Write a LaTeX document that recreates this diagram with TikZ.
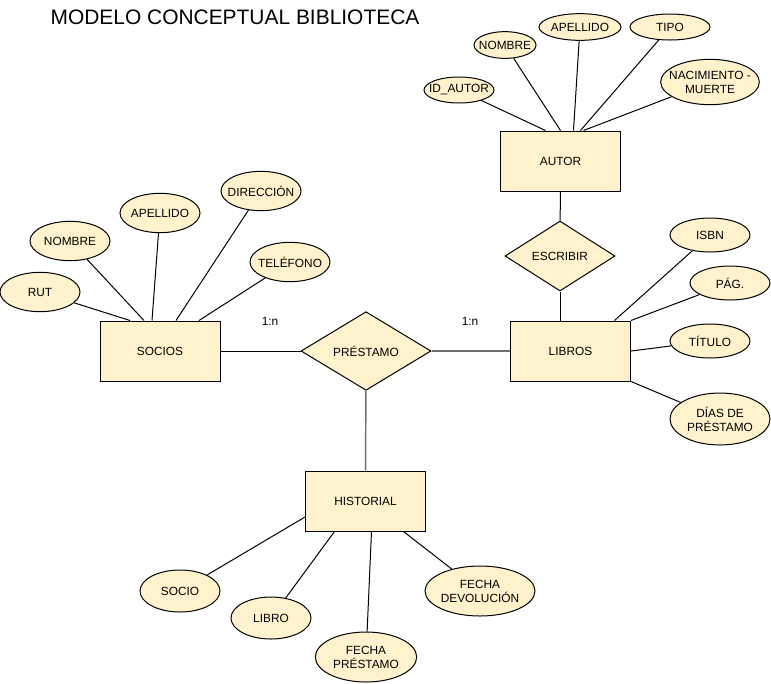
\documentclass[tikz,border=0pt]{standalone}
\usepackage{fontspec}
\setmainfont{Liberation Sans}
\usetikzlibrary{shapes.geometric, calc}
\definecolor{amarillo}{RGB}{255,242,204}
\definecolor{gris}{RGB}{110,110,110}

\begin{document}
\begin{tikzpicture}[x=0.75pt,y=-0.75pt,line width=0.75pt,
		every node/.style={font=\fontsize{8.9}{10.6}\selectfont},
		every label/.style={align=center}]
		\tikzstyle{entidad}=[rectangle,draw,fill=amarillo,minimum width=90pt,minimum height=45pt]
		\tikzstyle{relacion}=[diamond,draw,fill=amarillo,aspect=1.6,inner sep=0pt]
		\tikzstyle{atributo}=[ellipse,draw,fill=amarillo,minimum width=60pt,minimum height=29.5pt,inner sep=0pt]
		\tikzstyle{gruesa}=[draw=gris,line width=1.1pt]

		\path[use as bounding box] (0,0) rectangle (771,683);
		\node (titulo) at (235,17) {\fontsize{15.7}{18}\selectfont MODELO CONCEPTUAL BIBLIOTECA};

		% entidades y relaciones
		\node[entidad] (autor) at (560.5,161) {AUTOR};
		\node[relacion,minimum width=82.5pt,minimum height=52.5pt] (escribir) at (560,256) {ESCRIBIR};
		\node[entidad] (libros) at (570.5,351) {LIBROS};
		\node[relacion,minimum width=97.5pt,minimum height=59pt] (prestamo) at (366,351) {PRÉSTAMO};
		\node[entidad] (socios) at (160,351) {SOCIOS};
		\node[entidad] (historial) at (365.5,501) {HISTORIAL};
		\node (card1) at (270,321) {1:n};
		\node (card2) at (470,321) {1:n};

		% atributos de autor
		\node[atributo,minimum width=52.5pt,minimum height=19.5pt,label=center:ID\_AUTOR] (idautor) at (459,90) {};
		\node[atributo,minimum width=46.5pt,minimum height=20pt,label=center:NOMBRE] (anombre) at (505,45) {};
		\node[atributo,minimum width=61.5pt,minimum height=20pt,label=center:APELLIDO] (aapellido) at (580,27) {};
		\node[atributo,minimum height=19.5pt,label=center:TIPO] (tipo) at (670,27) {};
		\node[atributo,minimum width=74pt,minimum height=34pt,label={center:NACIMIENTO -\\MUERTE}] (nacimiento) at (710,82) {};

		% atributos de socios
		\node[atributo,label=center:RUT] (rut) at (40,292) {};
		\node[atributo,label=center:NOMBRE] (snombre) at (70,241) {};
		\node[atributo,label=center:APELLIDO] (sapellido) at (160,213) {};
		\node[atributo,label=center:DIRECCIÓN] (direccion) at (261,191) {};
		\node[atributo,label=center:TELÉFONO] (telefono) at (290,262) {};

		% atributos de libros
		\node[atributo,minimum height=25.5pt,label=center:ISBN] (isbn) at (710,235) {};
		\node[atributo,minimum height=25.5pt,label=center:PÁG.] (pag) at (730,283) {};
		\node[atributo,minimum height=25.5pt,label=center:TÍTULO] (titulolibro) at (710,341) {};
		\node[atributo,minimum width=75pt,minimum height=39pt,label={center:DÍAS DE\\PRÉSTAMO}] (dias) at (720,419) {};

		% atributos de historial
		\node[atributo,minimum height=31.5pt,label=center:SOCIO] (socio) at (180,591) {};
		\node[atributo,minimum height=31.5pt,label=center:LIBRO] (libro) at (271,618) {};
		\node[atributo,minimum width=76pt,minimum height=37.5pt,label={center:FECHA\\PRÉSTAMO}] (fprestamo) at (366,657) {};
		\node[atributo,minimum width=82.5pt,minimum height=37.5pt,label={center:FECHA\\DEVOLUCIÓN}] (fdevolucion) at (480,591) {};

		\path (idautor) edge ($(autor.north)+(-15,0)$)
			  (anombre) edge (autor.north)
			  (aapellido) edge ($(autor.north)+(13,0)$)
			  (tipo) edge ($(autor.north)+(20,0)$)
			  (nacimiento) edge ($(autor.north)+(23,0)$)
			  (autor) edge (escribir)
			  (escribir) edge (escribir |- libros.north)
			  (rut) edge ($(socios.north)+(-30,0)$)
			  (snombre) edge ($(socios.north)+(-16,0)$)
			  (sapellido) edge ($(socios.north)+(-8,0)$)
			  (direccion) edge ($(socios.north)+(16,0)$)
			  (telefono) edge ($(socios.north)+(39,0)$)
			  (socios) edge (prestamo)
			  (prestamo) edge[gruesa] (libros)
			  (prestamo) edge[gruesa] (historial)
			  (isbn) edge ($(libros.north)+(44,0)$)
			  (pag) edge (libros.north east)
			  (titulolibro) edge (libros.east)
			  (dias) edge (libros.south east)
			  (socio) edge ($(historial.west)+(0,16)$)
			  (libro) edge ($(historial.south)+(-31,0)$)
			  (fprestamo) edge ($(historial.south)+(6,0)$)
			  (fdevolucion) edge ($(historial.south)+(38,0)$);

\end{tikzpicture}
\end{document}
